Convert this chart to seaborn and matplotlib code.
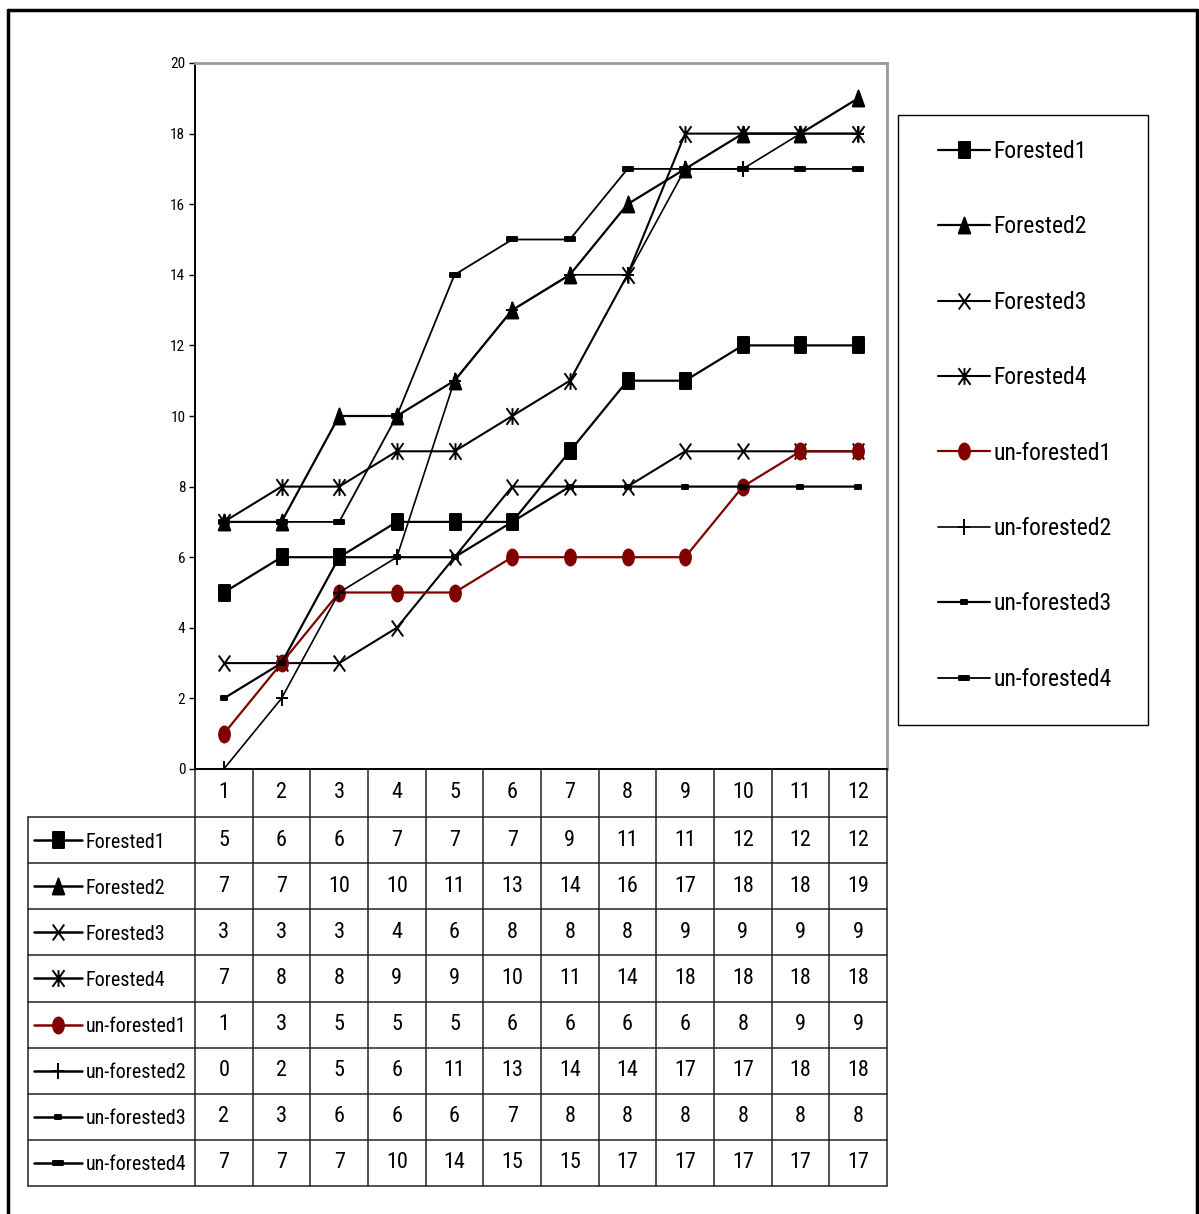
import numpy as np
import pandas as pd
import matplotlib
matplotlib.use("Agg")
import matplotlib.pyplot as plt
from matplotlib.path import Path
from matplotlib.lines import Line2D
from matplotlib.patches import Rectangle
from matplotlib import font_manager as fm
import seaborn as sns

# ---- data -------------------------------------------------------------
categories = list(range(1, 13))
series_names = ["Forested1", "Forested2", "Forested3", "Forested4",
                "un-forested1", "un-forested2", "un-forested3", "un-forested4"]
forested1 = [5, 6, 6, 7, 7, 7, 9, 11, 11, 12, 12, 12]
forested2 = [7, 7, 10, 10, 11, 13, 14, 16, 17, 18, 18, 19]
forested3 = [3, 3, 3, 4, 6, 8, 8, 8, 9, 9, 9, 9]
forested4 = [7, 8, 8, 9, 9, 10, 11, 14, 18, 18, 18, 18]
unforested1 = [1, 3, 5, 5, 5, 6, 6, 6, 6, 8, 9, 9]
unforested2 = [0, 2, 5, 6, 11, 13, 14, 14, 17, 17, 18, 18]
unforested3 = [2, 3, 6, 6, 6, 7, 8, 8, 8, 8, 8, 8]
unforested4 = [7, 7, 7, 10, 14, 15, 15, 17, 17, 17, 17, 17]
y_ticks = list(range(0, 21, 2))

values = [forested1, forested2, forested3, forested4,
          unforested1, unforested2, unforested3, unforested4]

df = pd.DataFrame({
    "category": np.tile(categories, len(series_names)),
    "value": np.concatenate(values),
    "series": np.repeat(series_names, len(categories)),
})

# ---- style ------------------------------------------------------------
sns.set_theme(style="white")


def pick_narrow_font():
    """Return (family, stretch) of the narrowest regular sans face installed."""
    fonts = fm.fontManager.ttflist
    preferred = ["Liberation Sans Narrow", "Arial Narrow", "Roboto Condensed",
                 "Open Sans Condensed", "Noto Sans Condensed"]
    for name in preferred:
        for f in fonts:
            if f.name == name and f.style == "normal" and f.weight in (400, "normal", "regular"):
                return f.name, f.stretch
    narrow_words = ("condensed", "semi-condensed", "extra-condensed", "ultra-condensed")
    for base in ["Liberation Sans", "Roboto", "Noto Sans", "Open Sans", "DejaVu Sans"]:
        for f in fonts:
            st = f.stretch if isinstance(f.stretch, str) else ""
            num = f.stretch if isinstance(f.stretch, int) else 500
            if f.name == base and f.style == "normal" and f.weight in (400, "normal", "regular") \
                    and (st in narrow_words or num < 500):
                return f.name, f.stretch
    return "DejaVu Sans", "condensed"


fam, stretch = pick_narrow_font()
plt.rcParams["font.family"] = [fam, "DejaVu Sans"]
plt.rcParams["font.stretch"] = stretch
for key in ("text.color", "axes.labelcolor", "xtick.color", "ytick.color"):
    plt.rcParams[key] = "black"


def seg_path(segments):
    verts, codes = [], []
    for a, b in segments:
        verts += [a, b]
        codes += [Path.MOVETO, Path.LINETO]
    return Path(verts, codes)


def poly_path(pts):
    return Path(pts + [pts[0]], [Path.MOVETO] + [Path.LINETO] * (len(pts) - 1) + [Path.CLOSEPOLY])


w = 0.36
m_rect = poly_path([(-w, -0.5), (w, -0.5), (w, 0.5), (-w, 0.5)])
m_tri = poly_path([(-w, -0.5), (w, -0.5), (0, 0.5)])
m_x = seg_path([((-w, -0.5), (w, 0.5)), ((-w, 0.5), (w, -0.5))])
m_star = seg_path([((-w, -0.5), (w, 0.5)), ((-w, 0.5), (w, -0.5)), ((0, -0.5), (0, 0.5))])
circ = Path.unit_circle()
m_ell = Path(circ.vertices * np.array([0.34, 0.5]), circ.codes)
m_plus = seg_path([((0, -0.5), (0, 0.5)), ((-w, 0), (w, 0))])
m_dash_s = poly_path([(-0.5, -0.33), (0.5, -0.33), (0.5, 0.33), (-0.5, 0.33)])
m_dash_l = poly_path([(-0.5, -0.25), (0.5, -0.25), (0.5, 0.25), (-0.5, 0.25)])

styles = {
    "Forested1": dict(marker=m_rect, markersize=11, color="black", lw=1.6),
    "Forested2": dict(marker=m_tri, markersize=11.5, color="black", lw=1.6),
    "Forested3": dict(marker=m_x, markersize=11.5, color="black", lw=1.5),
    "Forested4": dict(marker=m_star, markersize=12, color="black", lw=1.5),
    "un-forested1": dict(marker=m_ell, markersize=11.5, color="#800000", lw=1.6),
    "un-forested2": dict(marker=m_plus, markersize=12, color="black", lw=1.2),
    "un-forested3": dict(marker=m_dash_s, markersize=5, color="black", lw=1.6),
    "un-forested4": dict(marker=m_dash_l, markersize=7, color="black", lw=1.3),
}

W, H = 1199, 1214
fig = plt.figure(figsize=(W / 100, H / 100), dpi=100)


def fx(px):
    return px / W


def fy(py):
    return 1 - py / H


# ---- main plot --------------------------------------------------------
ax_left, ax_right, ax_top, ax_bottom = 195, 887, 63, 769
ax = fig.add_axes([fx(ax_left), fy(ax_bottom), fx(ax_right - ax_left), (ax_bottom - ax_top) / H])
for name in series_names:
    st = styles[name]
    sub = df[df["series"] == name]
    sns.lineplot(data=sub, x="category", y="value", ax=ax, color=st["color"],
                 marker=st["marker"], markersize=st["markersize"],
                 markeredgewidth=1.4, markeredgecolor=st["color"],
                 markerfacecolor=st["color"], linewidth=st["lw"], label=name)
ax.set_xlim(0.5, 12.5)
ax.set_ylim(0, 20)
ax.set_yticks(y_ticks)
ax.set_xticks([])
ax.set_xlabel("")
ax.set_ylabel("")
ax.tick_params(axis="y", left=True, length=4, width=1, color="black",
               labelsize=11, pad=3, labelcolor="black")
for s in ("left", "bottom"):
    ax.spines[s].set_color("black")
    ax.spines[s].set_linewidth(1.4)
for s in ("top", "right"):
    ax.spines[s].set_color("#9a9a9a")
    ax.spines[s].set_linewidth(2)
handles, labels = ax.get_legend_handles_labels()
ax.get_legend().remove()

# ---- legend -----------------------------------------------------------
fig.add_artist(Rectangle((fx(898), fy(725)), fx(1148 - 898), (725 - 115) / H,
                         transform=fig.transFigure, fill=False, edgecolor="black", lw=1))
fig.legend(handles, labels, loc="upper left", bbox_to_anchor=(fx(938), fy(140)),
           frameon=False, fontsize=17, handlelength=2.2, handletextpad=0.15,
           labelspacing=2.22, borderpad=0, borderaxespad=0)

# ---- data table -------------------------------------------------------
tb_left, tb_top, tb_bottom = 28, 769, 1186
col_w = (ax_right - ax_left) / 12
x0 = 0.5 - (ax_left - tb_left) / col_w
tab = fig.add_axes([fx(tb_left), fy(tb_bottom), fx(ax_right - tb_left), (tb_bottom - tb_top) / H])
tab.set_xlim(x0, 12.5)
total_h = tb_bottom - tb_top
tab.set_ylim(total_h, 0)
tab.axis("off")

head_h = 48
row_h = (total_h - head_h) / len(series_names)
grid_kw = dict(color="#222222", lw=1.1, clip_on=False)

# header row with category numbers
for c in categories:
    tab.text(c, head_h / 2, str(c), ha="center", va="center", fontsize=16)
# vertical grid lines
for k in range(13):
    tab.plot([k + 0.5, k + 0.5], [0, total_h], **grid_kw)
tab.plot([x0, x0], [head_h, total_h], **grid_kw)
# horizontal grid lines
for r in range(len(series_names) + 1):
    yy = head_h + r * row_h
    tab.plot([x0, 12.5], [yy, yy], **grid_kw)


def px_to_tab(px):
    return x0 + (px - tb_left) / col_w


for r, (name, vals) in enumerate(zip(series_names, values)):
    yc = head_h + (r + 0.5) * row_h
    st = styles[name]
    tab.plot([px_to_tab(34), px_to_tab(82)], [yc, yc], color=st["color"], lw=1.8, clip_on=False)
    tab.plot([px_to_tab(58)], [yc], marker=st["marker"], markersize=st["markersize"],
             color=st["color"], markeredgecolor=st["color"], markeredgewidth=1.4,
             clip_on=False)
    tab.text(px_to_tab(86), yc + 2, name, ha="left", va="center", fontsize=14.5)
    for c, v in zip(categories, vals):
        tab.text(c, yc, str(v), ha="center", va="center", fontsize=16)

# ---- outer frame ------------------------------------------------------
frame_kw = dict(color="black", lw=2.5, transform=fig.transFigure)
fig.add_artist(Line2D([fx(8), fx(1197)], [fy(10), fy(10)], **frame_kw))
fig.add_artist(Line2D([fx(8), fx(8)], [fy(10), 0], **frame_kw))
fig.add_artist(Line2D([fx(1197), fx(1197)], [fy(10), 0], **frame_kw))

fig.savefig("out.png", dpi=100)
